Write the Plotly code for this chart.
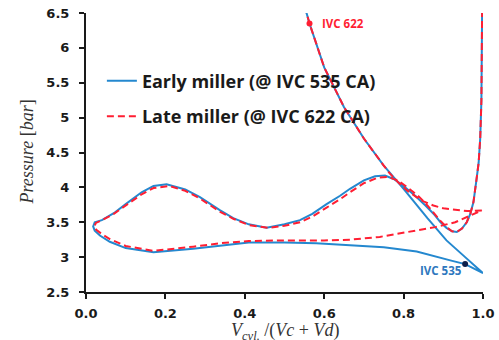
import plotly.graph_objects as go

# ---------------- data ----------------
# Early miller (@ IVC 535 CA): expansion -> exhaust -> intake -> compression
blue_x = [0.998, 0.997, 0.996, 0.993, 0.989, 0.984, 0.976, 0.968, 0.959, 0.947, 0.934,
          0.922, 0.908, 0.893, 0.879, 0.855, 0.829, 0.800, 0.775, 0.753, 0.728, 0.700,
          0.665, 0.640, 0.606, 0.570, 0.539, 0.500, 0.455, 0.410, 0.371, 0.338, 0.287,
          0.250, 0.203, 0.170, 0.140, 0.100, 0.070, 0.040, 0.022, 0.018, 0.022, 0.035,
          0.060, 0.100, 0.170, 0.270, 0.340, 0.410, 0.500, 0.580, 0.665, 0.750, 0.833,
          0.883, 0.920, 0.955, 1.000,
          0.955, 0.908, 0.860, 0.829, 0.800, 0.749, 0.700, 0.650, 0.600, 0.563, 0.548]
blue_p = [6.70, 6.00, 5.25, 4.70, 4.35, 4.13, 3.79, 3.62, 3.50, 3.41, 3.36,
          3.37, 3.42, 3.50, 3.60, 3.74, 3.88, 4.02, 4.12, 4.17, 4.16, 4.10,
          3.98, 3.88, 3.76, 3.62, 3.53, 3.47, 3.42, 3.47, 3.56, 3.67, 3.86,
          3.97, 4.045, 4.02, 3.93, 3.76, 3.63, 3.53, 3.50, 3.44, 3.38, 3.31,
          3.22, 3.13, 3.07, 3.12, 3.17, 3.21, 3.21, 3.20, 3.17, 3.14, 3.08,
          3.00, 2.95, 2.90, 2.77,
          3.00, 3.24, 3.56, 3.78, 3.98, 4.32, 4.70, 5.15, 5.72, 6.35, 6.65]

# Late miller (@ IVC 622 CA)
red_x = [0.998, 0.997, 0.996, 0.993, 0.989, 0.984, 0.976, 0.968, 0.959, 0.947, 0.934,
         0.922, 0.908, 0.893, 0.879, 0.860, 0.840, 0.810, 0.785, 0.760, 0.735, 0.700,
         0.665, 0.640, 0.606, 0.570, 0.539, 0.500, 0.460, 0.410, 0.371, 0.338, 0.287,
         0.250, 0.210, 0.170, 0.140, 0.100, 0.070, 0.040, 0.025, 0.021, 0.026, 0.040,
         0.060, 0.100, 0.170, 0.270, 0.340, 0.410, 0.500, 0.600, 0.665, 0.740, 0.810,
         0.880, 0.930, 0.970, 0.997,
         0.960, 0.930, 0.900, 0.875, 0.850, 0.830, 0.808, 0.785, 0.765, 0.749,
         0.700, 0.650, 0.600, 0.563, 0.548]
red_p = [6.70, 6.00, 5.25, 4.70, 4.35, 4.13, 3.79, 3.62, 3.50, 3.41, 3.36,
         3.37, 3.43, 3.52, 3.62, 3.74, 3.86, 4.00, 4.10, 4.15, 4.14, 4.06,
         3.93, 3.83, 3.71, 3.58, 3.50, 3.45, 3.42, 3.46, 3.55, 3.65, 3.84,
         3.95, 4.02, 3.99, 3.90, 3.74, 3.62, 3.53, 3.49, 3.44, 3.39, 3.33,
         3.26, 3.16, 3.09, 3.15, 3.20, 3.23, 3.24, 3.24, 3.25, 3.29, 3.36,
         3.43, 3.50, 3.60, 3.67,
         3.66, 3.68, 3.70, 3.74, 3.80, 3.87, 3.96, 4.08, 4.20, 4.32,
         4.70, 5.15, 5.72, 6.35, 6.65]

ivc_early = (0.955, 2.90)
ivc_late = (0.563, 6.35)

x_ticks = [0.0, 0.2, 0.4, 0.6, 0.8, 1.0]
y_ticks = [2.5, 3, 3.5, 4, 4.5, 5, 5.5, 6, 6.5]

x_title = "<i>V</i><sub><i>cyl.</i></sub> /(<i>Vc</i> + <i>Vd</i>)"
y_title = "<i>Pressure</i> [<i>bar</i>]"

BLUE = "#2488CF"
RED = "#FF1E32"
TICKFONT = dict(family="DejaVu Sans", size=13, color="#1a1a1a", weight="bold")
TITLEFONT = dict(family="Liberation Serif", size=18, color="#333333")

fig = go.Figure()
fig.add_trace(go.Scatter(x=blue_x, y=blue_p, mode="lines", name="Early miller (@ IVC 535 CA)",
                         line=dict(color=BLUE, width=2), legendgroup="a"))
fig.add_trace(go.Scatter(x=red_x, y=red_p, mode="lines", name="Late miller (@ IVC 622 CA)",
                         line=dict(color=RED, width=2, dash="7px,4px"), legendgroup="b"))
fig.add_trace(go.Scatter(x=[ivc_early[0]], y=[ivc_early[1]], mode="markers", showlegend=False,
                         marker=dict(color="#0B1F4A", size=6)))
fig.add_trace(go.Scatter(x=[ivc_late[0]], y=[ivc_late[1]], mode="markers", showlegend=False,
                         marker=dict(color=RED, size=6)))

fig.add_annotation(x=ivc_late[0], y=ivc_late[1], text="IVC 622", showarrow=False,
                   xanchor="left", yanchor="middle", xshift=10, yshift=0,
                   font=dict(family="Open Sans", size=11.5, color=RED, weight="bold"))
fig.add_annotation(x=ivc_early[0], y=ivc_early[1], text="IVC 535", showarrow=False,
                   xanchor="right", yanchor="middle", xshift=-1, yshift=-6,
                   font=dict(family="Open Sans", size=11.5, color="#2E78BE", weight="bold"))

# axis titles
fig.add_annotation(x=0.5, y=0, xref="paper", yref="paper", text=x_title, showarrow=False,
                   xanchor="center", yanchor="top", yshift=-27, borderpad=0, font=TITLEFONT)
fig.add_annotation(x=0, y=0.5, xref="paper", yref="paper", text=y_title, showarrow=False,
                   textangle=-90, xanchor="right", yanchor="middle", xshift=-48, font=TITLEFONT)

axis_common = dict(showgrid=False, zeroline=False, showline=True, linecolor="#1a1a1a",
                   linewidth=2, ticks="outside", ticklen=5, tickwidth=1.5, tickcolor="#1a1a1a",
                   tickfont=TICKFONT, automargin=False)

fig.update_xaxes(range=[0, 1], tickvals=x_ticks, tickformat=".1f", ticklabelstandoff=3,
                 **axis_common)
fig.update_yaxes(range=[2.5, 6.5], tickvals=y_ticks, ticklabelstandoff=7,
                 **axis_common)

fig.update_layout(
    width=499, height=340, autosize=False,
    margin=dict(l=86, r=16, t=13, b=48),
    paper_bgcolor="white", plot_bgcolor="white",
    legend=dict(x=0.04, y=0.822, xanchor="left", yanchor="top",
                bgcolor="rgba(0,0,0,0)", tracegroupgap=9,
                font=dict(family="Open Sans", size=18, color="#1a1a1a", weight="bold")),
)

fig.write_html("out.html")
